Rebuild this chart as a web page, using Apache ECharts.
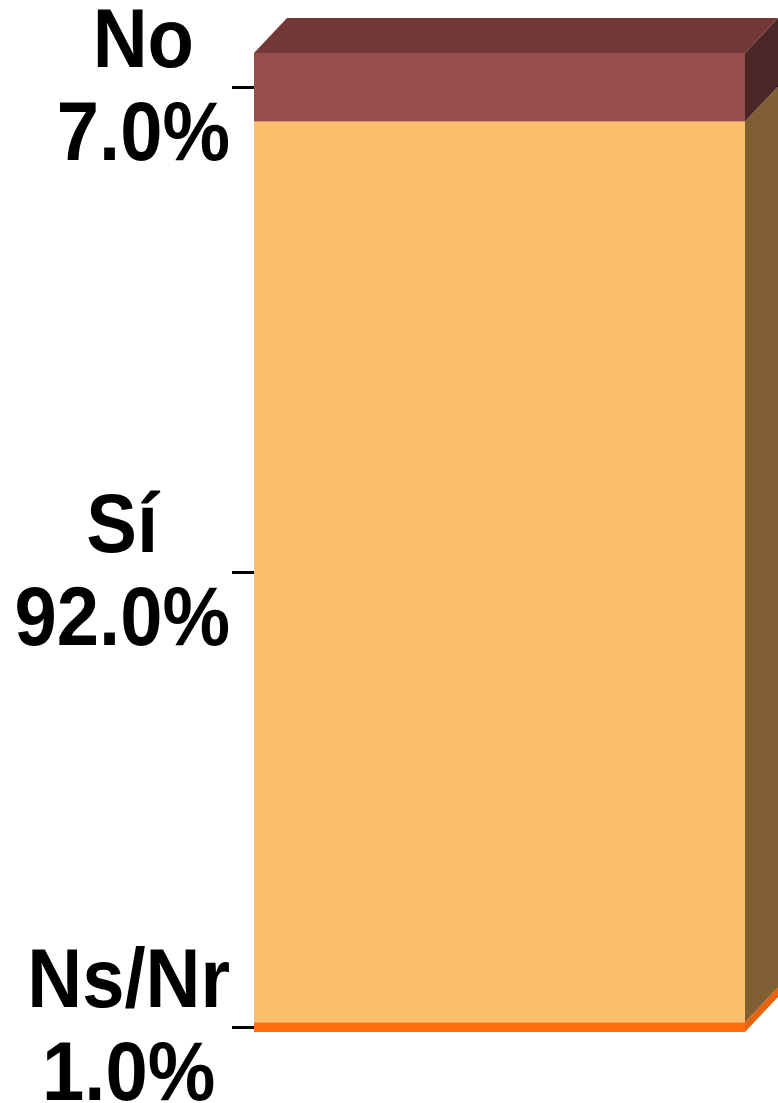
<!DOCTYPE html>
<html>
<head>
<meta charset="utf-8">
<script src="https://cdn.jsdelivr.net/npm/echarts@6/dist/echarts.min.js"></script>
<style>
  html, body { margin: 0; padding: 0; background: #fff; }
  #chart { width: 778px; height: 1103px; }
</style>
</head>
<body>
<div id="chart"></div>
<script>
// datos (de abajo hacia arriba)
var categorias = ['Ns/Nr', 'Sí', 'No'];
var valores = [1.0, 92.0, 7.0];
var etiquetas = ['1.0%', '92.0%', '7.0%'];

var frontColors = ['#FF6E0A', '#FEBF6A', '#994C4C'];
var sideColors = ['#E8640C', '#7F5F33', '#4B2627'];
var topColor = '#733838';
var DX = 33, DY = 35;

// tramos apilados
var tramos = [];
var acum = 0;
for (var i = 0; i < valores.length; i++) {
    tramos.push([0, acum, acum + valores[i]]);
    acum += valores[i];
}

function renderItem(params, api) {
    var i = params.dataIndex;
    var lo = api.coord([api.value(0), api.value(1)]);
    var hi = api.coord([api.value(0), api.value(2)]);
    var w = api.size([1, 0])[0];
    var xl = lo[0] - w / 2, xr = lo[0] + w / 2;
    var yb = lo[1], yt = hi[1];
    var children = [];
    // cara frontal
    children.push({
        type: 'polygon',
        shape: { points: [[xl, yt], [xr, yt], [xr, yb], [xl, yb]] },
        style: { fill: frontColors[i] }
    });
    // cara lateral
    children.push({
        type: 'polygon',
        shape: { points: [[xr, yt], [xr + DX, yt - DY], [xr + DX, yb - DY], [xr, yb]] },
        style: { fill: sideColors[i] }
    });
    // tapa superior
    if (i === valores.length - 1) {
        children.push({
            type: 'polygon',
            shape: { points: [[xl, yt], [xr, yt], [xr + DX, yt - DY], [xl + DX, yt - DY]] },
            style: { fill: topColor }
        });
    }
    // marca y etiqueta en el centro del tramo
    var ym = Math.round((yb + yt) / 2) + 0.5;
    children.push({
        type: 'line',
        shape: { x1: xl - 22, y1: ym, x2: xl, y2: ym },
        style: { stroke: '#000', lineWidth: 3 }
    });
    children.push({
        type: 'text',
        x: xl - 24,
        y: ym + 3,
        scaleY: 1.1,
        style: {
            text: '{a|' + categorias[i] + '}\n{a|' + etiquetas[i] + '}',
            align: 'right',
            verticalAlign: 'middle',
            rich: {
                a: {
                    align: 'center',
                    fontFamily: 'Liberation Sans',
                    fontWeight: 'bold',
                    fontSize: 76,
                    lineHeight: 85,
                    fill: '#000'
                }
            }
        }
    });
    return { type: 'group', children: children };
}

var chart = echarts.init(document.getElementById('chart'));
chart.setOption({
    animation: false,
    grid: { left: 254, right: 33, top: 53, bottom: 71 },
    xAxis: { type: 'category', data: [''], show: false },
    yAxis: { type: 'value', min: 0, max: 100, show: false },
    series: [{
        type: 'custom',
        clip: false,
        renderItem: renderItem,
        data: tramos
    }]
});
</script>
</body>
</html>
